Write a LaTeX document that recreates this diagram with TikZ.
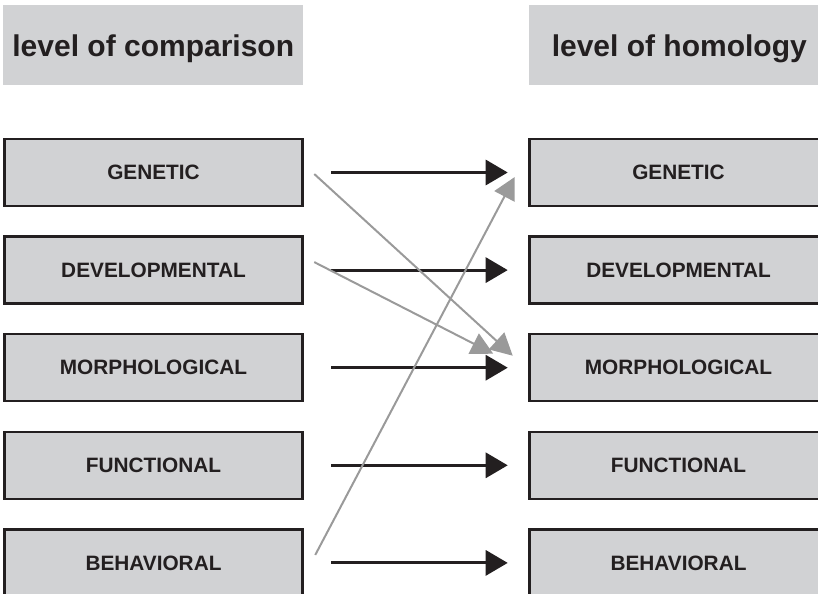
\documentclass[tikz,border=0pt]{standalone}
\usepackage{fontspec}
\setmainfont{Liberation Sans}
\usetikzlibrary{arrows.meta,calc}
\definecolor{boxfill}{HTML}{D1D2D4}
\definecolor{ink}{HTML}{231F20}
\definecolor{crossgray}{HTML}{9A9A9A}

\begin{document}
\begin{tikzpicture}[x=0.75pt,y=-0.75pt,
  headbox/.style={fill=boxfill, draw=none, anchor=north west, inner sep=0pt,
    minimum width=225pt, minimum height=60pt, text=ink, text depth=0pt,
    font=\fontsize{22.5}{26}\selectfont\bfseries},
  levelbox/.style={fill=boxfill, draw=ink, line width=1.9pt, inner sep=0pt,
    minimum width=223.5pt, minimum height=50.25pt, text=ink,
    font=\fontsize{15.6}{18}\selectfont\bfseries},
  samelevel/.style={draw=ink, line width=2.25pt,
    -{Triangle[length=16.5pt,width=18.75pt]}},
  crosslevel/.style={draw=crossgray, line width=1.5pt,
    -{Triangle[length=16.5pt,width=17pt]}}]

\useasboundingbox (0,0) rectangle (818,593);
\clip (0,0) rectangle (818,593);

% column headings
\node[headbox] (hcomp) at (3,5) {level of comparison};
\node[headbox] (hhom) at (529,5) {level of homology};

% level of comparison
\node[levelbox] (cg) at (153.5,172.5) {GENETIC};
\node[levelbox] (cd) at (153.5,270.1) {DEVELOPMENTAL};
\node[levelbox] (cm) at (153.5,367.7) {MORPHOLOGICAL};
\node[levelbox] (cf) at (153.5,465.3) {FUNCTIONAL};
\node[levelbox] (cb) at (153.5,562.9) {BEHAVIORAL};

% level of homology
\node[levelbox] (hg) at (678.5,172.5) {GENETIC};
\node[levelbox] (hd) at (678.5,270.1) {DEVELOPMENTAL};
\node[levelbox] (hm) at (678.5,367.7) {MORPHOLOGICAL};
\node[levelbox] (hf) at (678.5,465.3) {FUNCTIONAL};
\node[levelbox] (hb) at (678.5,562.9) {BEHAVIORAL};

% same-level correspondences
\foreach \a/\b in {cg/hg, cd/hd, cm/hm, cf/hf, cb/hb}
  \draw[samelevel] ([shift={(27.5,0)}]\a.east) -- ([shift={(-20.5,0)}]\b.west);

% cross-level correspondences
\draw[crosslevel] ([shift={(10.5,1.5)}]cg.east) -- ([shift={(-15.5,-12)}]hm.west);
\draw[crosslevel] ([shift={(10.5,-8)}]cd.east) -- ([shift={(-35,-14)}]hm.west);
\draw[crosslevel] ([shift={(11.5,-8)}]cb.east) -- ([shift={(-13.5,4.5)}]hg.west);
\end{tikzpicture}
\end{document}
